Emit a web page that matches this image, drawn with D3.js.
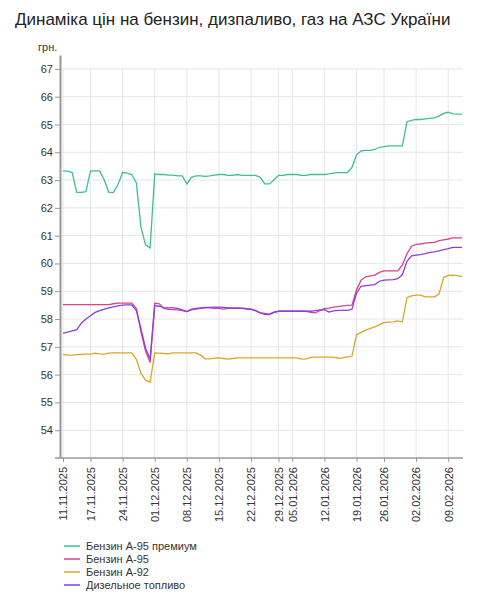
<!DOCTYPE html>
<html>
<head>
<meta charset="utf-8">
<script src="https://cdn.jsdelivr.net/npm/d3@7"></script>
<style>
  body { margin: 0; background: #fff; font-family: Arial, "Liberation Sans", sans-serif; }
</style>
</head>
<body>
<div id="chart"></div>
<script>
// data (грн. per litre)
var dates = [
  "11.11.2025","12.11.2025","13.11.2025","14.11.2025","15.11.2025","16.11.2025","17.11.2025","18.11.2025","19.11.2025","20.11.2025",
  "21.11.2025","22.11.2025","23.11.2025","24.11.2025","25.11.2025","26.11.2025","27.11.2025","28.11.2025","29.11.2025","30.11.2025",
  "01.12.2025","02.12.2025","03.12.2025","04.12.2025","05.12.2025","06.12.2025","07.12.2025","08.12.2025","09.12.2025","10.12.2025",
  "11.12.2025","12.12.2025","13.12.2025","14.12.2025","15.12.2025","16.12.2025","17.12.2025","18.12.2025","19.12.2025","20.12.2025",
  "21.12.2025","22.12.2025","23.12.2025","24.12.2025","26.12.2025","27.12.2025","28.12.2025","29.12.2025","30.12.2025","31.12.2025",
  "05.01.2026","06.01.2026","07.01.2026","08.01.2026","09.01.2026","10.01.2026","11.01.2026","12.01.2026","13.01.2026","14.01.2026",
  "15.01.2026","16.01.2026","17.01.2026","18.01.2026","19.01.2026","20.01.2026","21.01.2026","22.01.2026","23.01.2026","24.01.2026",
  "26.01.2026","27.01.2026","28.01.2026","29.01.2026","30.01.2026","31.01.2026","01.02.2026","02.02.2026","03.02.2026","04.02.2026",
  "05.02.2026","06.02.2026","07.02.2026","08.02.2026","09.02.2026","10.02.2026","11.02.2026","12.02.2026"
];

var tickDates = ["11.11.2025","17.11.2025","24.11.2025","01.12.2025","08.12.2025","15.12.2025","22.12.2025",
  "29.12.2025","05.01.2026","12.01.2026","19.01.2026","26.01.2026","02.02.2026","09.02.2026"];

var yTicks = [54, 55, 56, 57, 58, 59, 60, 61, 62, 63, 64, 65, 66, 67];

var names = ["Бензин А-95 премиум", "Бензин А-95", "Бензин А-92", "Дизельное топливо"];

var a95premium = [
  63.33, 63.32, 63.27, 62.56, 62.56, 62.58, 63.33, 63.33, 63.33, 63.0,
  62.56, 62.56, 62.85, 63.27, 63.25, 63.2, 62.9, 61.3, 60.67, 60.56,
  63.22, 63.2, 63.2, 63.18, 63.18, 63.15, 63.15, 62.86, 63.1, 63.15,
  63.15, 63.13, 63.15, 63.18, 63.2, 63.2, 63.17, 63.17, 63.2, 63.17,
  63.17, 63.17, 63.17, 63.1, 62.86, 62.86, 63.0, 63.17, 63.17, 63.2,
  63.2, 63.2, 63.17, 63.17, 63.2, 63.2, 63.2, 63.2, 63.22, 63.25,
  63.27, 63.27, 63.27, 63.45, 63.9, 64.05, 64.07, 64.07, 64.1, 64.18,
  64.2, 64.23, 64.23, 64.23, 64.23, 65.1, 65.15, 65.18, 65.18, 65.2,
  65.22, 65.24, 65.3, 65.4, 65.44, 65.38, 65.37, 65.37
];

var a95 = [
  58.52, 58.52, 58.52, 58.52, 58.52, 58.52, 58.52, 58.52, 58.52, 58.52,
  58.52, 58.55, 58.57, 58.57, 58.57, 58.57, 58.38, 57.55, 56.85, 56.44,
  58.57, 58.55, 58.38, 58.35, 58.34, 58.33, 58.3, 58.27, 58.33, 58.36,
  58.38, 58.4, 58.4, 58.38, 58.38, 58.36, 58.38, 58.38, 58.38, 58.38,
  58.37, 58.35, 58.3, 58.22, 58.2, 58.18, 58.25, 58.28, 58.28, 58.28,
  58.28, 58.28, 58.28, 58.28, 58.24, 58.22, 58.3, 58.37, 58.39, 58.43,
  58.45, 58.47, 58.49, 58.5, 59.05, 59.4, 59.52, 59.55, 59.58, 59.68,
  59.73, 59.73, 59.73, 59.73, 59.95, 60.35, 60.62, 60.69, 60.7, 60.73,
  60.75, 60.76, 60.82, 60.85, 60.88, 60.92, 60.92, 60.92
];

var a92 = [
  56.72, 56.7, 56.7, 56.72, 56.73, 56.74, 56.74, 56.77, 56.75, 56.74,
  56.77, 56.78, 56.78, 56.78, 56.78, 56.78, 56.55, 56.05, 55.8, 55.73,
  56.78, 56.77, 56.76, 56.75, 56.78, 56.78, 56.78, 56.78, 56.78, 56.78,
  56.7, 56.57, 56.57, 56.59, 56.6, 56.58, 56.56, 56.58, 56.6, 56.6,
  56.6, 56.6, 56.6, 56.6, 56.6, 56.6, 56.6, 56.6, 56.6, 56.6,
  56.6, 56.6, 56.56, 56.57, 56.62, 56.63, 56.63, 56.63, 56.63, 56.63,
  56.59, 56.6, 56.64, 56.66, 57.43, 57.52, 57.6, 57.66, 57.72, 57.8,
  57.87, 57.89, 57.9, 57.93, 57.9, 58.77, 58.83, 58.86, 58.86, 58.8,
  58.8, 58.8, 58.9, 59.5, 59.57, 59.58, 59.56, 59.53
];

var diesel = [
  57.49, 57.53, 57.57, 57.62, 57.85, 58.0, 58.12, 58.24, 58.3, 58.36,
  58.4, 58.44, 58.47, 58.5, 58.51, 58.51, 58.3, 57.65, 56.95, 56.56,
  58.48, 58.46, 58.4, 58.4, 58.4, 58.38, 58.33, 58.27, 58.36, 58.38,
  58.4, 58.42, 58.42, 58.43, 58.43, 58.42, 58.4, 58.4, 58.4, 58.39,
  58.37, 58.36, 58.3, 58.22, 58.17, 58.16, 58.24, 58.28, 58.28, 58.28,
  58.28, 58.28, 58.28, 58.28, 58.28, 58.3, 58.33, 58.34, 58.25, 58.29,
  58.31, 58.31, 58.31, 58.35, 58.93, 59.18, 59.2, 59.22, 59.24, 59.36,
  59.4, 59.41, 59.42, 59.45, 59.6, 60.08, 60.27, 60.3, 60.32, 60.35,
  60.4, 60.42, 60.45, 60.5, 60.53, 60.58, 60.58, 60.58
];

var colors = ["#3dbd9d", "#dc3f8c", "#daa629", "#8a3de0"];
var series = [a95premium, a95, a92, diesel];

var svgWidth = 491;
var svgHeight = 600;

var svg = d3.select("#chart")
    .append("svg")
    .attr("width", svgWidth)
    .attr("height", svgHeight);

// title
svg.append("text")
    .attr("x", 15)
    .attr("y", 25)
    .attr("font-size", 17)
    .attr("fill", "#222")
    .text("Динаміка цін на бензин, дизпаливо, газ на АЗС України");

// scales
var xScale = d3.scalePoint()
    .domain(dates)
    .range([63, 462]);
var yScale = d3.scaleLinear()
    .domain([53, 67.5])
    .range([458, 55]);

// grid lines
svg.append("g")
    .selectAll("line")
    .data(yTicks)
    .enter()
    .append("line")
    .attr("x1", 60)
    .attr("x2", 463)
    .attr("y1", d => yScale(d))
    .attr("y2", d => yScale(d))
    .attr("stroke", "#e6e6e6")
    .attr("stroke-width", 1);

svg.append("g")
    .selectAll("line")
    .data(tickDates)
    .enter()
    .append("line")
    .attr("x1", d => xScale(d))
    .attr("x2", d => xScale(d))
    .attr("y1", yScale(67))
    .attr("y2", 458)
    .attr("stroke", "#e6e6e6")
    .attr("stroke-width", 1);

// axes
var leftAxis = d3.axisLeft(yScale)
    .tickValues(yTicks)
    .tickSize(5)
    .tickSizeOuter(0)
    .tickPadding(2);
var yAxisG = svg.append("g")
    .attr("transform", "translate(60,0)")
    .call(leftAxis);
yAxisG.select(".domain").attr("stroke", "#999").attr("stroke-width", 2);
yAxisG.selectAll(".tick line").attr("stroke", "#999");
yAxisG.selectAll("text")
    .attr("font-size", 11)
    .attr("font-family", "Arial, 'Liberation Sans', sans-serif")
    .attr("fill", "#333");

var bottomAxis = d3.axisBottom(xScale)
    .tickValues(tickDates)
    .tickSize(4)
    .tickSizeOuter(0);
var xAxisG = svg.append("g")
    .attr("transform", "translate(0,458)")
    .call(bottomAxis);
xAxisG.select(".domain").remove();
xAxisG.selectAll(".tick line").attr("stroke", "#999");
xAxisG.selectAll("text")
    .attr("transform", "rotate(-90)")
    .attr("x", -9)
    .attr("y", 0)
    .attr("dy", "0.35em")
    .attr("text-anchor", "end")
    .attr("font-size", 11)
    .attr("font-family", "Arial, 'Liberation Sans', sans-serif")
    .attr("fill", "#333");

svg.append("line")
    .attr("x1", 55)
    .attr("x2", 463)
    .attr("y1", 458)
    .attr("y2", 458)
    .attr("stroke", "#999")
    .attr("stroke-width", 1.5);

// unit label
svg.append("text")
    .attr("x", 38)
    .attr("y", 51)
    .attr("font-size", 11)
    .attr("fill", "#333")
    .text("грн.");

// lines
var line = d3.line()
    .x((d, i) => xScale(dates[i]))
    .y(d => yScale(d));

series.forEach((s, k) => {
    svg.append("path")
        .datum(s)
        .attr("d", line)
        .attr("fill", "none")
        .attr("stroke", colors[k])
        .attr("stroke-width", 1.3);
});

// legend
var legend = svg.append("g")
    .selectAll("g")
    .data(names)
    .enter()
    .append("g")
    .attr("transform", (d, i) => `translate(64, ${546 + i * 13})`);
legend.append("line")
    .attr("x1", 0)
    .attr("x2", 16)
    .attr("stroke", (d, i) => colors[i])
    .attr("stroke-width", 1.5);
legend.append("text")
    .attr("x", 22)
    .attr("dy", "0.35em")
    .attr("font-size", 11)
    .attr("fill", "#333")
    .text(d => d);
</script>
</body>
</html>
